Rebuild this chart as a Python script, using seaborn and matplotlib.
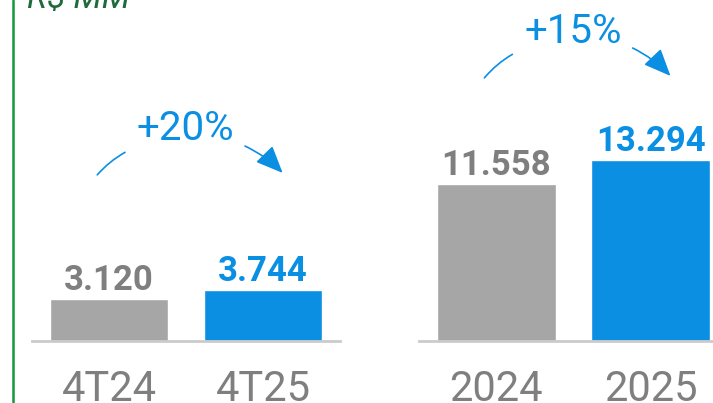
import matplotlib.pyplot as plt
import seaborn as sns

# data
quarter_labels = ['4T24', '4T25']
quarter_values = [3.120, 3.744]
year_labels = ['2024', '2025']
year_values = [11.558, 13.294]
quarter_growth = '+20%'
year_growth = '+15%'
value_texts_q = ['3.120', '3.744']
value_texts_y = ['11.558', '13.294']

gray = '#A6A6A6'
blue = '#0A8FE3'
label_gray = '#7F7F7F'
green = '#13983F'
dark_green = '#1D6B3A'

sns.set_theme(style='white')
plt.rcParams['font.family'] = ['Roboto', 'DejaVu Sans']

W, H = 713, 403
fig = plt.figure(figsize=(W / 100, H / 100), dpi=100)

base_px = 341
scale = 13.6  # px per unit
ymax = base_px / scale
ax_bottom = (H - base_px) / H
ax_height = base_px / H

ax1 = fig.add_axes([32 / W, ax_bottom, 308 / W, ax_height])
ax2 = fig.add_axes([419 / W, ax_bottom, 309 / W, ax_height])


def draw_group(ax, labels, values, texts):
    sns.barplot(x=labels, y=values, hue=labels, palette=[gray, blue],
                width=0.77, saturation=1, legend=False, ax=ax)
    ax.set_xlim(-0.5, 1.5)
    ax.set_ylim(0, ymax)
    for s in ['top', 'right', 'left']:
        ax.spines[s].set_visible(False)
    ax.spines['bottom'].set_color('#CBCBCB')
    ax.spines['bottom'].set_linewidth(2)
    ax.set_yticks([])
    ax.tick_params(axis='x', length=0, pad=20, labelsize=30, labelcolor=label_gray)
    ax.set_facecolor('none')
    for i, (v, t) in enumerate(zip(values, texts)):
        ax.annotate(t, xy=(i, v), xytext=(0, 6.5), textcoords='offset points',
                    ha='center', va='baseline', fontsize=25, fontweight='bold',
                    color=label_gray if i == 0 else blue)


def draw_growth(ax, text, y_lo, y_hi, y_text):
    ax.annotate('', xy=(0.12, y_hi), xytext=(-0.088, y_lo),
                arrowprops=dict(arrowstyle='-', color=blue, lw=1.2,
                                connectionstyle='arc3,rad=-0.1'),
                annotation_clip=False)
    ax.annotate('', xy=(1.14, y_lo + 0.15), xytext=(0.867, y_hi + 0.45),
                arrowprops=dict(arrowstyle='-|>,head_length=1.4,head_width=0.6',
                                color=blue, lw=1.2,
                                connectionstyle='arc3,rad=-0.1'),
                annotation_clip=False)
    ax.text(0.497, y_text, text, ha='center', va='center', fontsize=29,
            fontweight='normal', color=blue, clip_on=False)


draw_group(ax1, quarter_labels, quarter_values, value_texts_q)
draw_group(ax2, year_labels, year_values, value_texts_y)
draw_growth(ax1, quarter_growth, 12.06, 13.97, 15.66)
draw_growth(ax2, year_growth, 19.19, 21.18, 22.79)

# side rule and unit label
fig.add_artist(plt.Line2D([13 / W, 13 / W], [0, 1], color=green, lw=1.8))
fig.text(27 / W, (H - 8) / H, 'R$ MM', fontsize=24, fontstyle='italic',
         color=dark_green, va='baseline', ha='left')

fig.savefig('out.png', dpi=100)
